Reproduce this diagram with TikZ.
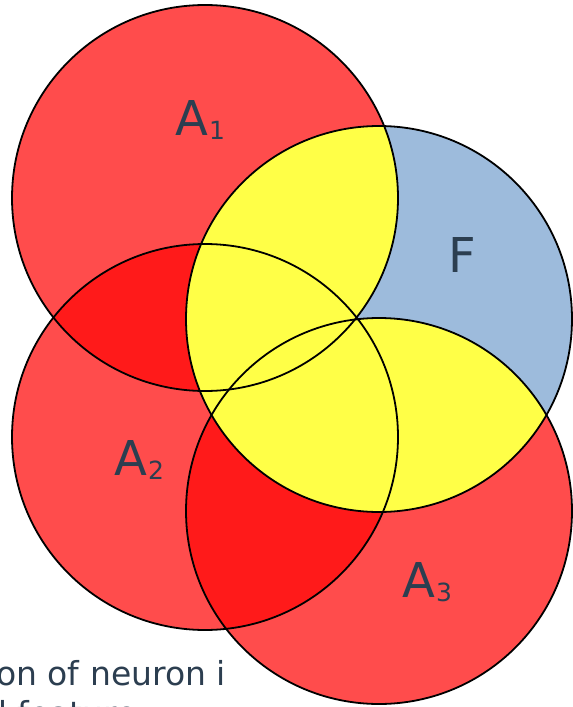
\documentclass[tikz,border=0pt]{standalone}
\usepackage{fontspec}
\setmainfont{DejaVu Sans}
\definecolor{lred}{HTML}{FF4C4C}
\definecolor{dred}{HTML}{FF1A1A}
\definecolor{fblue}{HTML}{9DBBDC}
\definecolor{yel}{HTML}{FFFF47}
\definecolor{txt}{HTML}{2C3E50}
\tikzset{
  ring/.style={draw=black, line width=1.8pt},
  biglabel/.style={text=txt, inner sep=0pt, anchor=base west, font=\fontsize{48}{56}\selectfont},
  captext/.style={text=txt, inner sep=0pt, font=\fontsize{33}{38}\selectfont}
}
\newcommand{\subs}[1]{\kern1pt\raisebox{-4.5pt}{\fontsize{25}{29}\selectfont #1}}
\begin{document}
\begin{tikzpicture}[x=1pt,y=-1pt]
\useasboundingbox (0,0) rectangle (573,707);
\clip (0,0) rectangle (573,707);
\def\R{193}
\coordinate (c1) at (205,198);
\coordinate (c2) at (205,437);
\coordinate (c3) at (379,511);
\coordinate (cf) at (379,319);
% red circles
\fill[lred] (c1) circle[radius=\R];
\fill[lred] (c2) circle[radius=\R];
\fill[lred] (c3) circle[radius=\R];
% darker overlaps
\begin{scope}
  \clip (c1) circle[radius=\R];
  \fill[dred] (c2) circle[radius=\R];
  \fill[dred] (c3) circle[radius=\R];
\end{scope}
\begin{scope}
  \clip (c2) circle[radius=\R];
  \fill[dred] (c3) circle[radius=\R];
\end{scope}
% F circle
\fill[fblue] (cf) circle[radius=\R];
\begin{scope}
  \clip (cf) circle[radius=\R];
  \fill[yel] (c1) circle[radius=\R] (c2) circle[radius=\R] (c3) circle[radius=\R];
\end{scope}
% outlines
\draw[ring] (c1) circle[radius=\R];
\draw[ring] (c2) circle[radius=\R];
\draw[ring] (c3) circle[radius=\R];
\draw[ring] (cf) circle[radius=\R];
% labels
\node[biglabel] (l1) at (175,135) {A\subs{1}};
\node[biglabel] (l2) at (114,475) {A\subs{2}};
\node[biglabel] (l3) at (402,597) {A\subs{3}};
\node[biglabel] (lf) at (448,272) {F};
% caption text (cut by the picture edge)
\node[captext, anchor=base east] (cap1) at (226,685) {Activation of neuron i};
\node[captext, anchor=base west] (cap2) at (-55,725) {and feature};
\end{tikzpicture}
\end{document}
